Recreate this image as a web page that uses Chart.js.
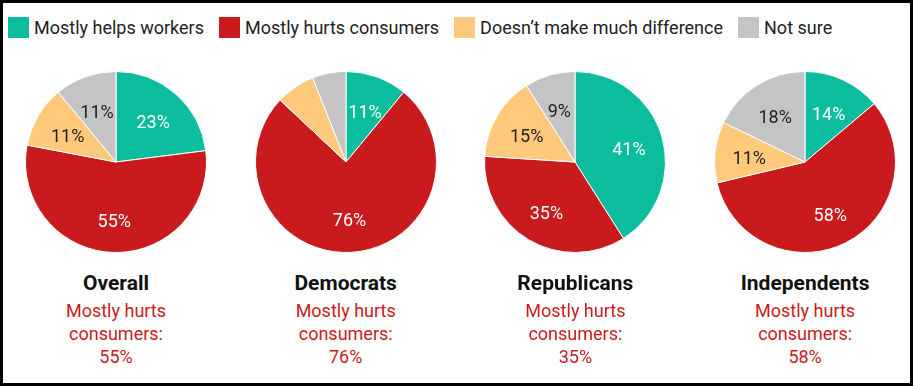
<!DOCTYPE html>
<html>
<head>
<meta charset="utf-8">
<script src="https://cdn.jsdelivr.net/npm/chart.js@4/dist/chart.umd.min.js"></script>
<style>
  html, body { margin: 0; padding: 0; background: #fff; }
  body { font-family: Roboto, "Noto Sans", sans-serif; }
  #frame {
    position: relative; width: 913px; height: 386px; box-sizing: border-box;
    border: 3px solid #000; overflow: hidden;
  }
  #legend { position: absolute; left: 5px; top: 14px; display: flex; align-items: center; }
  .item { display: flex; align-items: center; margin-right: 15px; font-size: 18px; color: #222; }
  .sw { width: 21px; height: 21px; margin-right: 5px; }
  .pie { position: absolute; top: 59px; width: 230px; height: 200px; }
  .cap { position: absolute; top: 267px; width: 230px; text-align: center; }
  .cap .t { font-weight: bold; font-size: 21px; color: #111; line-height: 26px; }
  .cap .s { font-size: 18px; color: #c91b1e; line-height: 23px; margin-top: 3px; }
</style>
</head>
<body>
<div id="frame">
  <div id="legend"></div>
</div>
<script>
// answer categories
const categories = ["Mostly helps workers", "Mostly hurts consumers", "Doesn\u2019t make much difference", "Not sure"];
const colors = ["#0bbd9d", "#c91b1e", "#fec97a", "#c4c4c4"];
const textColors = ["#fff", "#fff", "#222", "#222"];

// groups and their shares (%)
const groups = ["Overall", "Democrats", "Republicans", "Independents"];
const overall = [23, 55, 11, 11];
const democrats = [11, 76, 7, 6];
const republicans = [41, 35, 15, 9];
const independents = [14, 58, 11, 18];
const seriesList = [overall, democrats, republicans, independents];

const frame = document.getElementById("frame");
const legend = document.getElementById("legend");

categories.forEach((c, i) => {
  const it = document.createElement("div");
  it.className = "item";
  it.innerHTML = '<div class="sw" style="background:' + colors[i] + '"></div><span>' + c + '</span>';
  legend.appendChild(it);
});

// draw percentage labels inside slices (small slices left unlabelled)
const sliceLabels = {
  id: "sliceLabels",
  afterDatasetsDraw(chart) {
    const ctx = chart.ctx;
    const meta = chart.getDatasetMeta(0);
    const data = chart.data.datasets[0].data;
    ctx.save();
    ctx.font = "18px Roboto";
    ctx.textAlign = "center";
    ctx.textBaseline = "middle";
    meta.data.forEach((arc, i) => {
      if (data[i] < 8) return;
      const mid = (arc.startAngle + arc.endAngle) / 2;
      const r = arc.outerRadius * 0.62;
      ctx.fillStyle = textColors[i];
      ctx.fillText(data[i] + "%", arc.x + Math.cos(mid) * r, arc.y + Math.sin(mid) * r + 4);
    });
    ctx.restore();
  }
};

groups.forEach((g, k) => {
  const left = -2 + k * 229.7;
  const box = document.createElement("div");
  box.className = "pie";
  box.style.left = left + "px";
  const cv = document.createElement("canvas");
  box.appendChild(cv);
  frame.appendChild(box);

  const cap = document.createElement("div");
  cap.className = "cap";
  cap.style.left = left + "px";
  cap.innerHTML = '<div class="t">' + g + '</div><div class="s">Mostly hurts<br>consumers:<br>' + seriesList[k][1] + '%</div>';
  frame.appendChild(cap);

  new Chart(cv, {
    type: "pie",
    data: {
      labels: categories,
      datasets: [{
        data: seriesList[k],
        backgroundColor: colors,
        borderColor: "#fff",
        borderWidth: 1
      }]
    },
    options: {
      responsive: true,
      maintainAspectRatio: false,
      animation: false,
      layout: { padding: 9 },
      plugins: { legend: { display: false }, tooltip: { enabled: false } }
    },
    plugins: [sliceLabels]
  });
});
</script>
</body>
</html>
